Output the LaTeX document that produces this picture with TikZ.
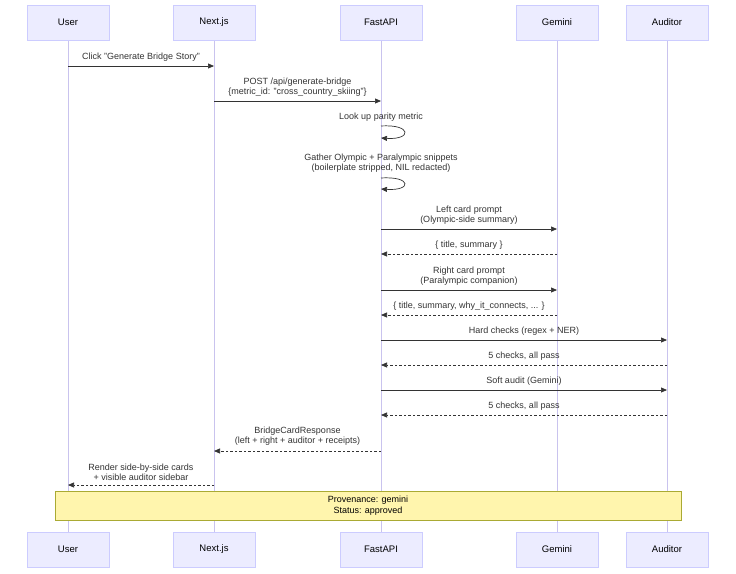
\documentclass[tikz,border=0pt]{standalone}
\usepackage{fontspec}
\setmainfont{Liberation Sans}
\usetikzlibrary{arrows.meta}
\definecolor{actfill}{HTML}{ECECFF}
\definecolor{actdraw}{HTML}{CCCCFF}
\definecolor{lifeln}{HTML}{C9C3EE}
\definecolor{notefill}{HTML}{FFF5AD}
\definecolor{notedraw}{HTML}{AAAA33}
\definecolor{msg}{HTML}{333333}
\tikzset{
 actor/.style={draw=actdraw,fill=actfill,minimum width=82pt,minimum height=35pt,inner sep=0pt,font=\fontsize{9.5}{11}\selectfont},
 life/.style={draw=lifeln,line width=0.6pt},
 m/.style={draw=msg,line width=0.7pt,-{Triangle[length=6pt,width=5pt]}},
 r/.style={m,dash pattern=on 2.5pt off 2pt},
 lbl/.style={font=\fontsize{9}{10.5}\selectfont,align=center,anchor=south,inner sep=1pt,text=msg},
}
\begin{document}
\begin{tikzpicture}[x=1pt,y=-1pt]
\useasboundingbox (0,0) rectangle (736,573);
\foreach \n/\x/\t in {u/68/User,n/214/Next.js,f/381/FastAPI,g/557/Gemini,a/667/Auditor}{
  \coordinate (\n) at (\x,0);
  \draw[life] (\x,40) -- (\x,532);
  \node[actor] (\n T) at (\x,22.5) {\t};
  \node[actor] (\n B) at (\x,549.5) {\t};
}
\node[draw=notedraw,fill=notefill,minimum width=626pt,minimum height=29pt,inner sep=0pt,align=center,font=\fontsize{9}{10.5}\selectfont] (note) at (368,505.5) {Provenance: gemini\\Status: approved};
% messages
\newcommand\msgline[6]{% style, from, to, y, label, labely
  \coordinate (s) at (#2,#4); \coordinate (e) at (#3,#4);
  \draw[#1] (s) -- (e);
  \node[lbl] at ({(#2+#3)/2},#6) {#5};}
\msgline{m}{68}{214}{66}{Click "Generate Bridge Story"}{63}
\msgline{m}{214}{381}{101}{POST /api/generate-bridge\\\{metric\_id: "cross\_country\_skiing"\}}{98}
\coordinate (l1a) at (381,126); \coordinate (l1b) at (381,138);
\draw[m] (l1a) .. controls (412,124) and (412,140) .. (l1b);
\node[lbl] at (381,123) {Look up parity metric};
\coordinate (l2a) at (381,178); \coordinate (l2b) at (381,189);
\draw[m] (l2a) .. controls (412,176) and (412,191) .. (l2b);
\node[lbl] at (381,174) {Gather Olympic + Paralympic snippets\\(boilerplate stripped, NIL redacted)};
\msgline{m}{381}{557}{229}{Left card prompt\\(Olympic-side summary)}{226}
\msgline{r}{557}{381}{254}{\{ title, summary \}}{251}
\msgline{m}{381}{557}{290}{Right card prompt\\(Paralympic companion)}{287}
\msgline{r}{557}{381}{315}{\{ title, summary, why\_it\_connects, ... \}}{312}
\msgline{m}{381}{667}{340}{Hard checks (regex + NER)}{337}
\msgline{r}{667}{381}{365}{5 checks, all pass}{362}
\msgline{m}{381}{667}{390}{Soft audit (Gemini)}{387}
\msgline{r}{667}{381}{415}{5 checks, all pass}{412}
\msgline{r}{381}{214}{451}{BridgeCardResponse\\(left + right + auditor + receipts)}{447}
\msgline{r}{214}{68}{485}{Render side-by-side cards\\+ visible auditor sidebar}{482}
\end{tikzpicture}
\end{document}
